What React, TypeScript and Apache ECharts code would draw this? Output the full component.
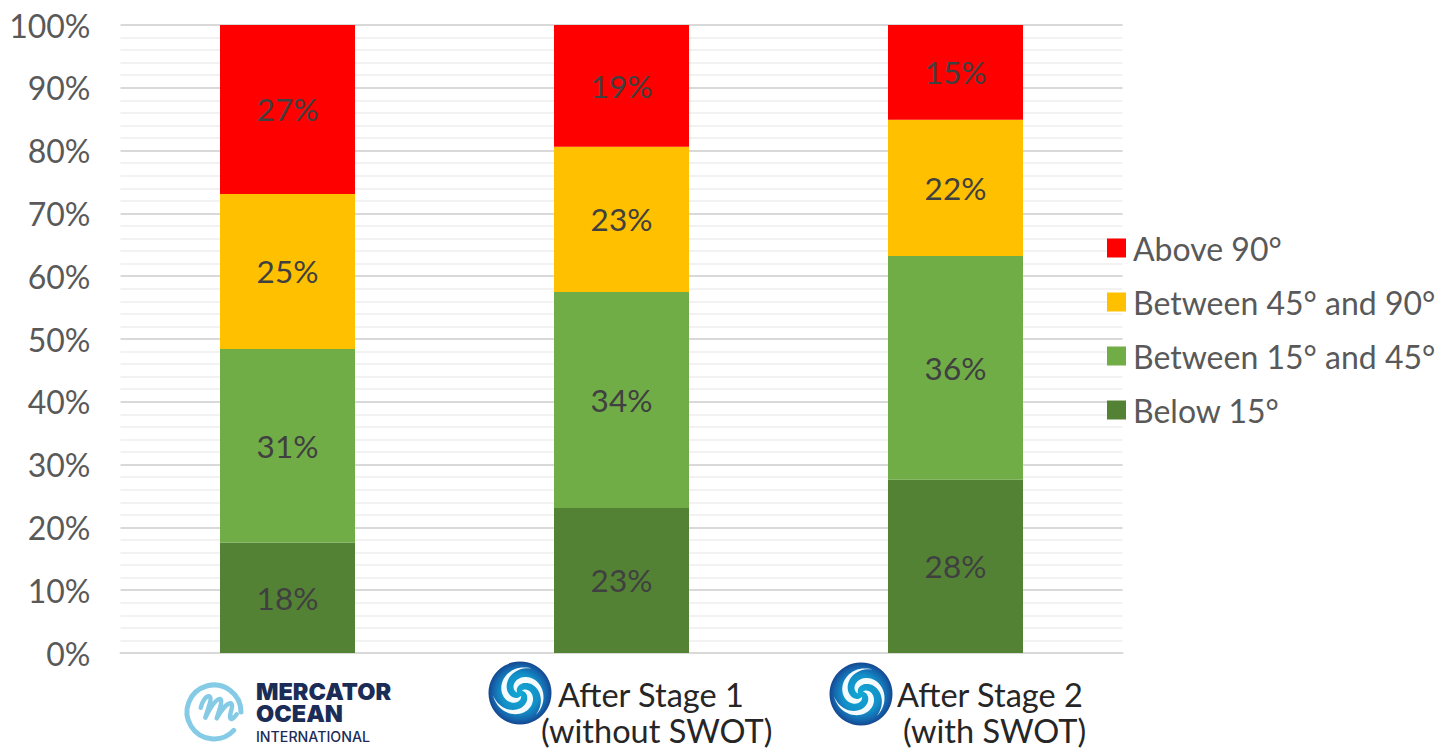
import React, { useEffect, useRef } from "react";
import * as echarts from "echarts";

const categories = ["Mercator Ocean", "After Stage 1", "After Stage 2"];
const below15 = [17.6, 23.1, 27.6];
const between15and45 = [30.8, 34.4, 35.6];
const between45and90 = [24.7, 23.1, 21.7];
const above90 = [26.9, 19.4, 15.1];
const legendOrder = ["Above 90°", "Between 45° and 90°", "Between 15° and 45°", "Below 15°"];

const FONT = "Lato";

// Builds one tapered spiral arm of the stage badge, centred on 0,0 with radius 100.
function spiralArmPath(): string {
  const steps = 40;
  const outer: string[] = [];
  const inner: string[] = [];
  for (let i = 0; i <= steps; i++) {
    const t = i / steps;
    const r = 10 + 76 * t;
    const a = ((70 + 225 * t) * Math.PI) / 180;
    const half = 10.5 * Math.sin(Math.PI * Math.pow(t, 0.75));
    outer.push(`${((r + half) * Math.cos(a)).toFixed(2)} ${((r + half) * Math.sin(a)).toFixed(2)}`);
    inner.unshift(`${((r - half) * Math.cos(a)).toFixed(2)} ${((r - half) * Math.sin(a)).toFixed(2)}`);
  }
  return `M${outer.join(" L")} L${inner.join(" L")} Z`;
}

// Script "m" of the Mercator mark, drawn as one open stroke.
const SCRIPT_M =
  "M20.7 32.7 C22 26.7 26 20.7 29.3 21.3 C32.7 22.7 28 33.3 25.3 42.7 C30 33.3 36 24 40 24 C43.3 24.7 39.3 35 36.7 43.3 C40.7 36 46.7 28.3 50.7 28.3 C54 30 50 37.3 50 41.7 C50 46 54 43.3 56.7 39.3";

echarts.graphic.registerShape("stageArm", echarts.graphic.extendPath(spiralArmPath() as any, {}) as any);
echarts.graphic.registerShape("scriptM", echarts.graphic.extendPath(SCRIPT_M as any, {}) as any);

function badge(cx: number, cy: number, r: number) {
  const s = r / 100;
  const arm = (deg: number) => ({
    type: "stageArm",
    x: cx,
    y: cy,
    rotation: (deg * Math.PI) / 180,
    scaleX: s,
    scaleY: s,
    shape: {},
    style: { fill: "#f4fbfe" },
  });
  return {
    type: "group",
    children: [
      {
        type: "circle",
        shape: { cx, cy, r },
        style: {
          fill: new echarts.graphic.RadialGradient(0.5, 0.5, 0.5, [
            { offset: 0, color: "#12a8d4" },
            { offset: 0.6, color: "#1290c8" },
            { offset: 0.85, color: "#1565ac" },
            { offset: 1, color: "#14478f" },
          ]),
        },
      },
      arm(0),
      arm(120),
      arm(240),
    ],
  };
}

function App() {
  const ref = useRef<HTMLDivElement>(null);
  useEffect(() => {
    const chart = echarts.init(ref.current!, null, { renderer: "svg" });
    const bar = (name: string, data: number[], color: string) => ({
      name,
      type: "bar",
      stack: "share",
      data,
      barWidth: 135,
      itemStyle: { color },
      label: {
        show: true,
        position: "inside",
        color: "#404040",
        fontFamily: FONT,
        fontSize: 31.5,
        formatter: (p: any) => `${Math.round(p.value)}%`,
      },
    });
    chart.setOption({
      animation: false,
      backgroundColor: "#ffffff",
      grid: { left: 120.5, right: 314.5, top: 25, bottom: 96 },
      legend: {
        data: legendOrder,
        orient: "vertical",
        left: 1107,
        top: 232,
        padding: 0,
        itemWidth: 19,
        itemHeight: 19,
        itemGap: 22,
        icon: "rect",
        selectedMode: false,
        textStyle: { fontFamily: FONT, fontSize: 32, color: "#595959", padding: [0, 0, 2, 2] },
      },
      xAxis: {
        type: "category",
        data: categories,
        axisTick: { show: false },
        axisLabel: { show: false },
        axisLine: { lineStyle: { color: "#d9d9d9", width: 2 } },
      },
      yAxis: {
        type: "value",
        min: 0,
        max: 100,
        interval: 10,
        axisLine: { show: false },
        axisTick: { show: false },
        axisLabel: {
          formatter: "{value}%",
          fontFamily: FONT,
          fontSize: 32,
          color: "#595959",
          margin: 30,
          padding: [0, 0, 2, 0],
        },
        splitLine: { lineStyle: { color: "#d9d9d9", width: 2 } },
        minorTick: { show: false, splitNumber: 5 },
        minorSplitLine: { show: true, lineStyle: { color: "#f2f2f2", width: 2 } },
      },
      series: [
        bar("Below 15°", below15, "#548235"),
        bar("Between 15° and 45°", between15and45, "#70ad47"),
        bar("Between 45° and 90°", between45and90, "#ffc000"),
        bar("Above 90°", above90, "#ff0000"),
      ],
      graphic: [
        // Mercator Ocean mark and wordmark
        {
          type: "arc",
          shape: { cx: 214, cy: 712, r: 27, startAngle: 0.75, endAngle: 2 * Math.PI, clockwise: true },
          style: { stroke: "#86cbe6", lineWidth: 5, fill: "none", lineCap: "round" },
        },
        {
          type: "scriptM",
          x: 180,
          y: 675,
          shape: {},
          style: { fill: "none", stroke: "#86cbe6", lineWidth: 4.5, lineCap: "round", lineJoin: "round" },
        },
        {
          type: "text",
          x: 256,
          y: 680,
          style: { text: "MERCATOR\nOCEAN", font: "900 23.5px Inter", lineHeight: 22, fill: "#1b2c56" },
        },
        { type: "text", x: 256, y: 729, style: { text: "INTERNATIONAL", font: "500 14.2px Inter", fill: "#1b2c56" } },
        // Stage badges
        badge(520, 693, 31.5),
        badge(861, 694, 31.5),
        // Category captions
        { type: "text", x: 558, y: 678, style: { text: "After Stage 1", font: `32.5px ${FONT}`, fill: "#262626" } },
        { type: "text", x: 541, y: 714, style: { text: "(without SWOT)", font: `32.5px ${FONT}`, fill: "#262626" } },
        { type: "text", x: 897, y: 678, style: { text: "After Stage 2", font: `32.5px ${FONT}`, fill: "#262626" } },
        { type: "text", x: 903, y: 714, style: { text: "(with SWOT)", font: `32.5px ${FONT}`, fill: "#262626" } },
      ],
    });
    return () => chart.dispose();
  }, []);
  return <div ref={ref} style={{ position: "absolute", left: 0, top: 0, width: 1437, height: 749 }} />;
}

export default App;
